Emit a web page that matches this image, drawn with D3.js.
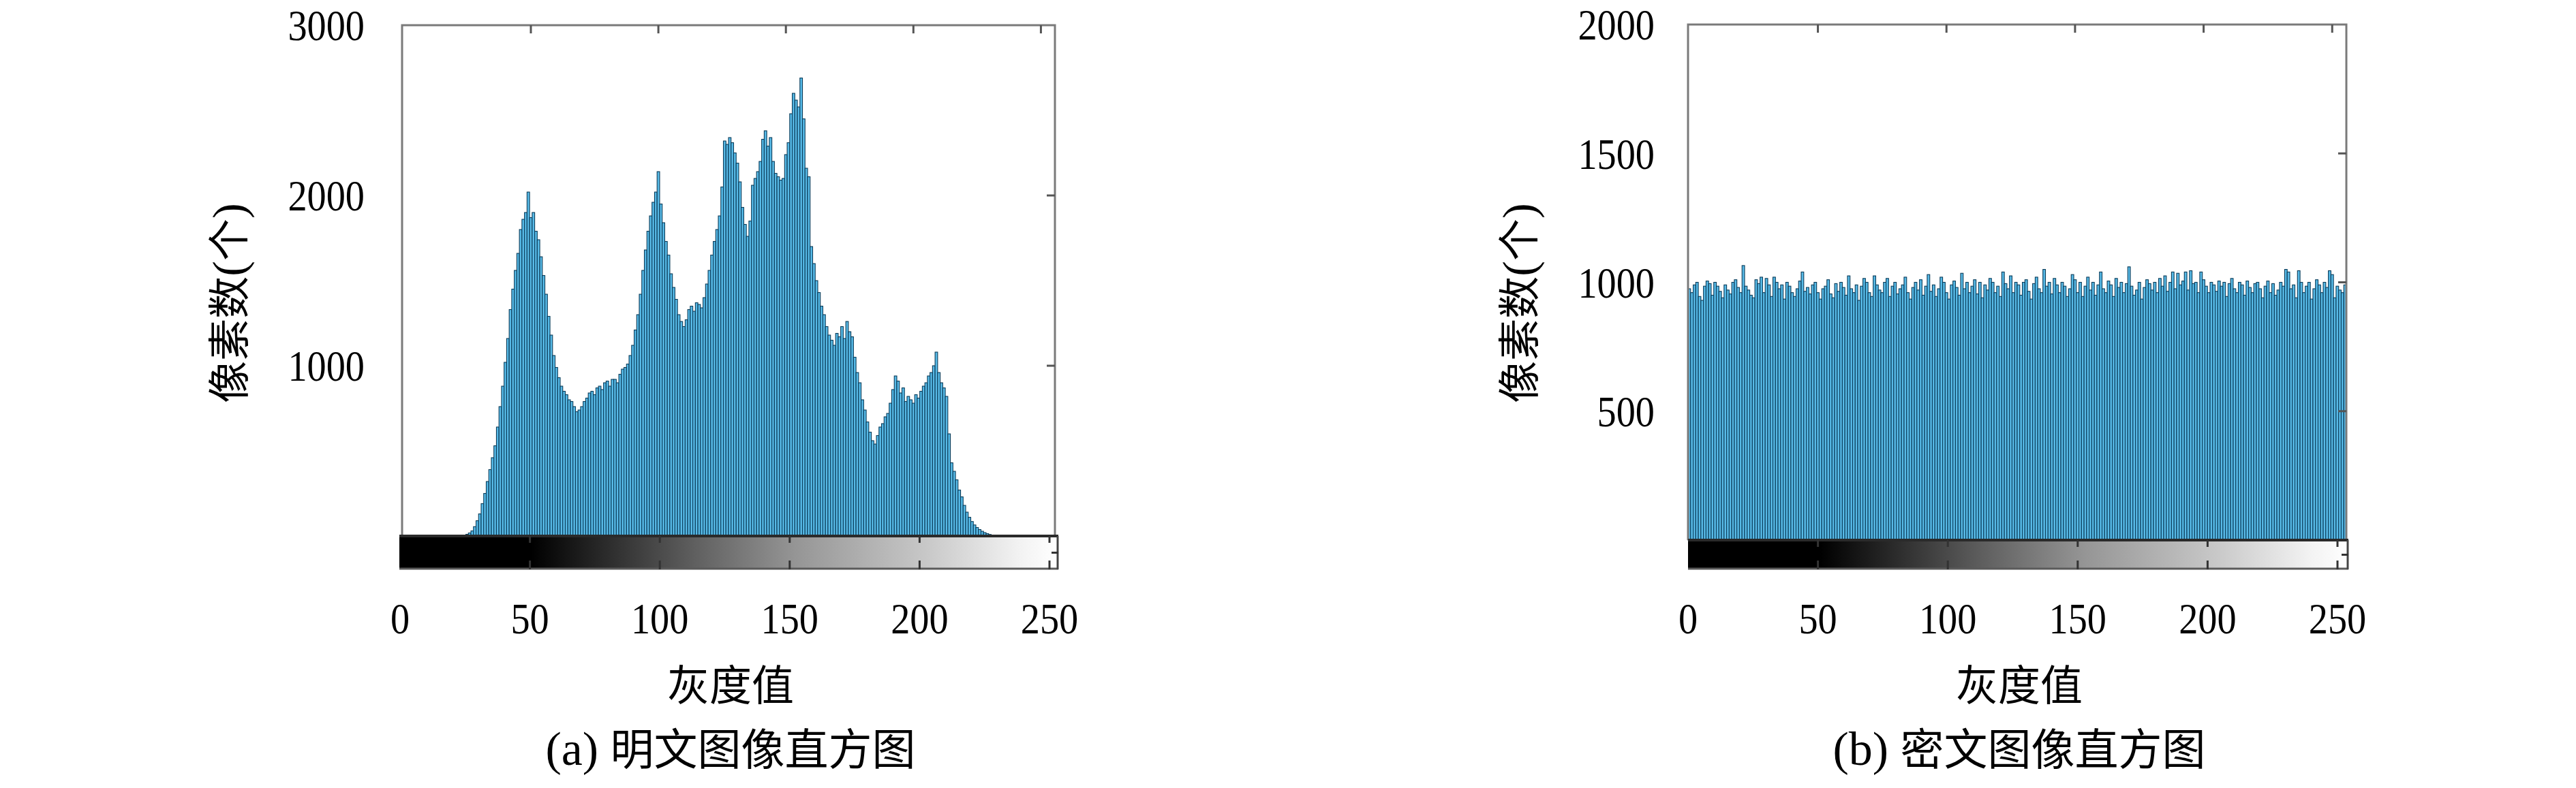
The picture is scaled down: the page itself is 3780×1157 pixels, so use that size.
<!DOCTYPE html>
<html><head><meta charset="utf-8">
<script src="https://cdn.jsdelivr.net/npm/d3@7"></script>
<style>body{margin:0;background:#fff}</style></head>
<body><svg id="c" width="3780" height="1157" xmlns="http://www.w3.org/2000/svg"></svg>
<script>
// ---------- data ----------
const grayLevels = d3.range(256);

const plainCounts = [
  0,0,0,0,0,0,0,0,0,0,0,0,0,0,0,0,0,0,0,0,0,0,0,0,
  5,10,18,30,55,90,130,190,250,320,390,460,530,640,760,880,
  1020,1160,1330,1450,1560,1660,1800,1860,1900,2020,1870,1900,1790,1740,1640,1530,
  1420,1290,1180,1060,990,930,880,850,830,800,790,760,730,740,760,790,
  810,840,850,830,870,880,860,900,910,880,920,920,900,950,980,990,
  1010,1060,1120,1210,1300,1420,1560,1680,1790,1880,1960,2020,2140,1950,1840,1730,
  1650,1540,1460,1390,1300,1260,1230,1270,1330,1350,1320,1370,1360,1340,1400,1480,
  1560,1650,1730,1800,1880,2050,2320,2300,2340,2310,2250,2190,2080,1930,1830,1760,
  1850,2060,2100,2140,2200,2330,2380,2290,2340,2200,2130,2110,2090,2100,2240,2310,
  2480,2600,2560,2520,2690,2450,2160,2110,1700,1600,1500,1430,1350,1300,1230,1180,
  1150,1120,1190,1170,1230,1160,1260,1200,1170,1050,960,900,800,740,670,610,
  560,540,590,640,660,700,720,780,860,940,910,840,870,790,820,800,
  780,830,810,850,880,900,940,960,1000,1080,960,900,870,820,600,430,
  380,330,270,230,180,140,110,85,65,50,38,28,20,14,9,5,
  3,0,0,0,0,0,0,0,0,0,0,0,0,0,0,0,
  0,0,0,0,0,0,0
];

const cipherCounts = [
  975,960,990,1000,945,930,985,1005,995,950,1000,985,965,940,990,970,
  955,1000,1010,980,960,1065,985,970,950,940,1010,995,1020,960,1015,990,
  945,1020,1000,975,990,935,1000,985,960,945,975,1005,1040,965,980,955,
  990,1000,960,935,975,985,1010,955,940,995,965,1000,980,950,1025,975,
  960,990,930,985,1015,1000,960,945,1025,990,970,960,1000,1015,945,985,
  1000,955,975,990,1020,960,935,980,1000,970,1010,950,985,1030,965,990,
  945,975,1020,1000,960,935,990,1005,980,950,1035,975,1000,960,985,1010,
  955,1000,940,990,970,1015,1000,960,985,945,1040,995,975,1025,960,1000,
  990,950,1000,1010,965,935,995,1020,975,960,1050,985,1000,955,1015,990,
  960,1000,985,945,975,1030,1010,960,1000,945,985,1020,970,1000,950,990,
  1040,975,960,1005,990,945,1015,980,1000,960,995,1060,985,950,970,1000,
  935,980,1010,995,970,1000,960,1015,985,1025,965,1000,1040,975,1035,990,
  1005,1040,970,1045,995,1000,960,1040,1010,985,960,1000,990,965,1005,985,
  1000,945,995,1015,975,960,1000,990,950,1005,980,960,995,1000,975,940,
  985,1005,960,995,950,970,1000,985,1050,1040,975,990,940,1045,1000,960,
  985,1000,935,975,1010,990,960,1000,980,1045,1030,940,985,970,960,990
];

const xTickLabels = [0, 50, 100, 150, 200, 250];
const plainYTicks = [1000, 2000, 3000];
const cipherYTicks = [500, 1000, 1500, 2000];
const plainFrameTicks = [1000, 2000];
const cipherFrameTicks = [500, 1000, 1500];
const yTitleParts = ["像素数", "(", "个", ")"];
const xTitle = "灰度值";
const captionTags = ["(a) ", "(b) "];
const captionTexts = ["明文图像直方图", "密文图像直方图"];

// ---------- layout ----------
const panels = [
  {counts: plainCounts, yMax: 3000, yTicks: plainYTicks, frameTicks: plainFrameTicks,
   left: 590, right: 1548, top: 37, base: 787, cbLeft: 586, cbRight: 1553,
   lab0: 587, lab250: 1540, yLabRight: 535, yTitleX: 337, tag: captionTags[0], caption: captionTexts[0]},
  {counts: cipherCounts, yMax: 2000, yTicks: cipherYTicks, frameTicks: cipherFrameTicks,
   left: 2477, right: 3443, top: 36, base: 793, cbLeft: 2477, cbRight: 3446,
   lab0: 2477, lab250: 3430, yLabRight: 2428, yTitleX: 2230, tag: captionTags[1], caption: captionTexts[1]}
];
const cbBottom = 836;
const numFont = "'Liberation Serif','DejaVu Serif',serif";
const cjkFont = "'Noto Sans CJK SC','Liberation Serif',serif";

const svg = d3.select("#c");
svg.append("rect").attr("width", 3780).attr("height", 1157).attr("fill", "#fff");

const defs = svg.append("defs");
const grad = defs.append("linearGradient").attr("id", "grayRamp")
  .attr("x1", "0%").attr("x2", "100%").attr("y1", "0%").attr("y2", "0%");
[[0, "#000"], [0.2, "#000"], [0.3, "#262626"], [0.45, "#606060"], [0.6, "#959595"],
 [0.8, "#c8c8c8"], [0.94, "#f2f2f2"], [1, "#ffffff"]]
  .forEach(([o, c]) => grad.append("stop").attr("offset", o).attr("stop-color", c));

panels.forEach(p => {
  const g = svg.append("g");
  const x = d3.scaleLinear().domain([-0.5, 255.5]).range([p.left, p.right]);
  const y = d3.scaleLinear().domain([0, p.yMax]).range([p.base, p.top]);
  const xl = d3.scaleLinear().domain([0, 250]).range([p.lab0, p.lab250]);

  // bars
  g.append("g").selectAll("rect").data(grayLevels).join("rect")
    .attr("x", d => x(d - 0.5))
    .attr("width", d => x(d + 0.5) - x(d - 0.5))
    .attr("y", d => y(p.counts[d]))
    .attr("height", d => y(0) - y(p.counts[d]))
    .attr("fill", "#58bbe8")
    .attr("stroke", "#0a3b58")
    .attr("stroke-width", 1.1);

  // frame (top, left, right)
  const fr = g.append("g").attr("stroke", "#7a7a7a").attr("stroke-width", 3).attr("fill", "none");
  fr.append("path").attr("d", `M${p.left},${p.base}V${p.top}H${p.right}V${p.base}`);

  // top ticks
  g.append("g").selectAll("line").data(xTickLabels.slice(1)).join("line")
    .attr("x1", d => x(d)).attr("x2", d => x(d))
    .attr("y1", p.top).attr("y2", p.top + 12)
    .attr("stroke", "#555").attr("stroke-width", 3);
  // right ticks
  g.append("g").selectAll("line").data(p.frameTicks).join("line")
    .attr("x1", p.right - 12).attr("x2", p.right)
    .attr("y1", d => y(d)).attr("y2", d => y(d))
    .attr("stroke", "#555").attr("stroke-width", 3);

  // colorbar
  g.append("rect").attr("x", p.cbLeft).attr("y", p.base)
    .attr("width", p.cbRight - p.cbLeft).attr("height", cbBottom - p.base)
    .attr("fill", "url(#grayRamp)");
  g.append("line").attr("x1", p.cbLeft).attr("x2", p.cbRight)
    .attr("y1", p.base).attr("y2", p.base).attr("stroke", "#2a2a2a").attr("stroke-width", 4);
  g.append("line").attr("x1", p.cbLeft).attr("x2", p.cbRight)
    .attr("y1", cbBottom - 1).attr("y2", cbBottom - 1).attr("stroke", "#5a5a5a").attr("stroke-width", 3);
  g.append("line").attr("x1", p.cbRight - 1).attr("x2", p.cbRight - 1)
    .attr("y1", p.base).attr("y2", cbBottom).attr("stroke", "#444").attr("stroke-width", 3);
  const cbt = g.append("g").attr("stroke", "#333").attr("stroke-width", 3);
  cbt.selectAll("line.b").data(xTickLabels.slice(1)).join("line").attr("class", "b")
    .attr("x1", d => xl(d)).attr("x2", d => xl(d))
    .attr("y1", cbBottom - 13).attr("y2", cbBottom);
  cbt.selectAll("line.t").data(xTickLabels.slice(1)).join("line").attr("class", "t")
    .attr("x1", d => xl(d)).attr("x2", d => xl(d))
    .attr("y1", p.base).attr("y2", p.base + 10);
  cbt.append("line").attr("x1", p.cbRight - 10).attr("x2", p.cbRight)
    .attr("y1", (p.base + cbBottom) / 2).attr("y2", (p.base + cbBottom) / 2);

  // x tick labels
  g.append("g").selectAll("g").data(xTickLabels).join("g")
    .attr("transform", d => `translate(${xl(d)},908)`)
    .append("text").attr("transform", "scale(0.88,1)")
    .attr("text-anchor", "middle").attr("dy", "0.35em")
    .attr("font-family", numFont).attr("font-size", 64).attr("fill", "#000")
    .text(d => d);

  // y tick labels
  g.append("g").selectAll("g").data(p.yTicks).join("g")
    .attr("transform", d => `translate(${p.yLabRight},${y(d)})`)
    .append("text").attr("transform", "scale(0.88,1)")
    .attr("text-anchor", "end").attr("dy", "0.35em")
    .attr("font-family", numFont).attr("font-size", 64).attr("fill", "#000")
    .text(d => d);

  // axis titles
  const yt = g.append("text").attr("transform", `translate(${p.yTitleX},445) rotate(-90)`)
    .attr("text-anchor", "middle").attr("dy", "0.35em")
    .attr("font-size", 62).attr("fill", "#000");
  yTitleParts.forEach(s => yt.append("tspan")
    .attr("font-family", /[()]/.test(s) ? numFont : cjkFont)
    .attr("font-size", /[()]/.test(s) ? 68 : 62).text(s));

  const cx = (p.left + p.right) / 2 + 3;
  g.append("text").attr("x", cx).attr("y", 1007)
    .attr("text-anchor", "middle").attr("dy", "0.35em")
    .attr("font-family", cjkFont).attr("font-size", 62).attr("fill", "#000")
    .text(xTitle);
  const cap = g.append("text").attr("x", cx).attr("y", 1117)
    .attr("text-anchor", "middle").attr("dy", "0.35em").attr("fill", "#000");
  cap.append("tspan").attr("font-family", numFont).attr("font-size", 70)
    .attr("xml:space", "preserve").style("white-space", "pre").text(p.tag);
  cap.append("tspan").attr("font-family", cjkFont).attr("font-size", 64).text(p.caption);
});
</script>
</body></html>
